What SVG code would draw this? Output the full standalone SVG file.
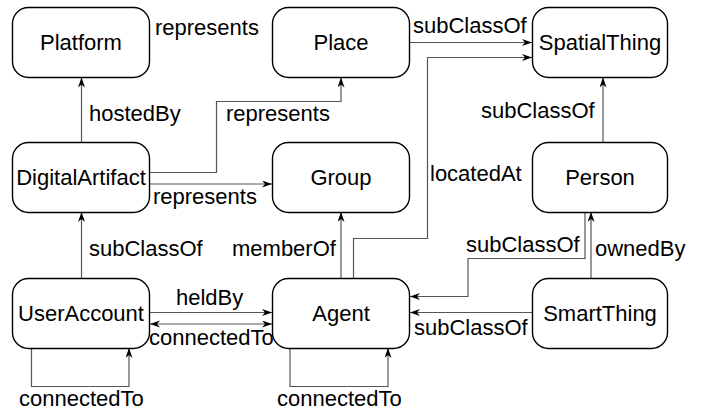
<svg xmlns="http://www.w3.org/2000/svg" width="706" height="416" viewBox="0 0 706 416">
<style>
.node rect{fill:#fff;stroke:#000;stroke-width:1.4}
text{font-family:"Liberation Sans",Arial,sans-serif;font-size:22px;fill:#000}
.node text{text-anchor:middle}
.edge{fill:none;stroke:#555;stroke-width:1.2}
</style>
<defs>
<marker id="arr" markerUnits="userSpaceOnUse" markerWidth="11" markerHeight="8" refX="10" refY="3.5" orient="auto-start-reverse" viewBox="0 0 11 8">
<path d="M0,0 L10,3.5 L0,7 L3,3.5 Z" fill="#000"/>
</marker>
</defs>
<g id="connectors">
<path class="edge" d="M81.5,143 V77.5" marker-end="url(#arr)"/>
<path class="edge" d="M150,172.5 H216.5 V101.5 H341 V77.5" marker-end="url(#arr)"/>
<path class="edge" d="M150,184 H272" marker-end="url(#arr)"/>
<path class="edge" d="M410,42.5 H532" marker-end="url(#arr)"/>
<path class="edge" d="M353.5,278 V238.5 H427.5 V57.5 H532" marker-end="url(#arr)"/>
<path class="edge" d="M341,278 V212" marker-end="url(#arr)"/>
<path class="edge" d="M603,143 V77.5" marker-end="url(#arr)"/>
<path class="edge" d="M591,278 V212" marker-end="url(#arr)"/>
<path class="edge" d="M585,212 V258.5 H468 V296.5 H410" marker-end="url(#arr)"/>
<path class="edge" d="M532,312.5 H410" marker-end="url(#arr)"/>
<path class="edge" d="M81.5,278 V212" marker-end="url(#arr)"/>
<path class="edge" d="M150,312.5 H272" marker-end="url(#arr)"/>
<path class="edge" d="M150,324 H272" marker-start="url(#arr)" marker-end="url(#arr)"/>
<path class="edge" d="M31.5,348 V386.5 H129 V348" marker-end="url(#arr)"/>
<path class="edge" d="M290,348 V386.5 H388 V348" marker-end="url(#arr)"/>
<text x="155" y="35">represents</text>
<text x="89" y="121">hostedBy</text>
<text x="226" y="121">represents</text>
<text x="153" y="204">represents</text>
<text x="413" y="33">subClassOf</text>
<text x="481" y="118">subClassOf</text>
<text x="430" y="181">locatedAt</text>
<text x="89" y="256">subClassOf</text>
<text x="232" y="256">memberOf</text>
<text x="466" y="252">subClassOf</text>
<text x="595" y="256">ownedBy</text>
<text x="176" y="305">heldBy</text>
<text x="149" y="345">connectedTo</text>
<text x="414" y="335">subClassOf</text>
<text x="19" y="406">connectedTo</text>
<text x="277" y="406">connectedTo</text>
</g>
<g id="Platform" class="node"><rect x="12.5" y="7.5" width="137" height="70" rx="16"/><text x="81" y="50">Platform</text></g>
<g id="Place" class="node"><rect x="272.5" y="7.5" width="137" height="70" rx="16"/><text x="341" y="50">Place</text></g>
<g id="SpatialThing" class="node"><rect x="532.5" y="7.5" width="135" height="70" rx="16"/><text x="600" y="50">SpatialThing</text></g>
<g id="DigitalArtifact" class="node"><rect x="12.5" y="142.5" width="137" height="70" rx="16"/><text x="81" y="185">DigitalArtifact</text></g>
<g id="Group" class="node"><rect x="272.5" y="142.5" width="137" height="70" rx="16"/><text x="341" y="185">Group</text></g>
<g id="Person" class="node"><rect x="532.5" y="142.5" width="135" height="70" rx="16"/><text x="600" y="185">Person</text></g>
<g id="UserAccount" class="node"><rect x="12.5" y="278.5" width="137" height="70" rx="16"/><text x="81" y="321">UserAccount</text></g>
<g id="Agent" class="node"><rect x="272.5" y="278.5" width="137" height="70" rx="16"/><text x="341" y="321">Agent</text></g>
<g id="SmartThing" class="node"><rect x="532.5" y="278.5" width="135" height="70" rx="16"/><text x="600" y="321">SmartThing</text></g>
</svg>
